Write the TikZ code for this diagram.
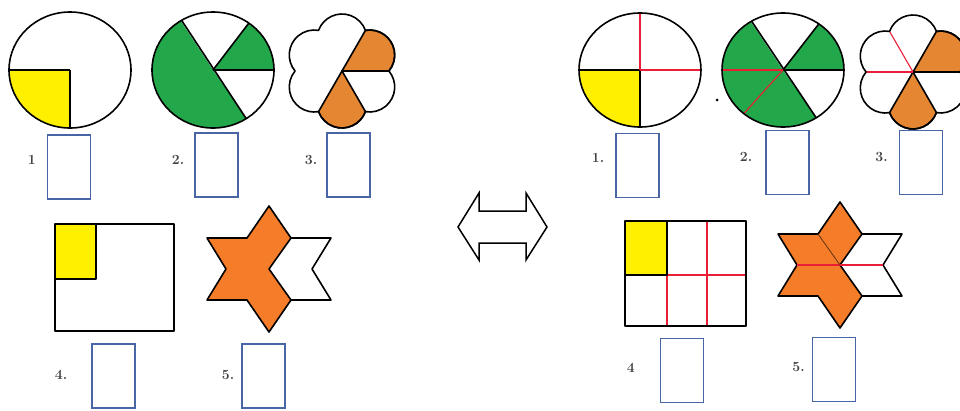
\documentclass[tikz,border=0pt]{standalone}
\usepackage{tikz}
\usetikzlibrary{positioning}

\definecolor{fillyellow}{RGB}{255,240,0}
\definecolor{fillgreen}{RGB}{34,168,74}
\definecolor{flowerorange}{RGB}{228,134,50}
\definecolor{starorange}{RGB}{245,124,40}
\definecolor{boxblue}{RGB}{72,102,165}
\definecolor{cutred}{RGB}{235,30,55}

\begin{document}
\begin{tikzpicture}[
    x=1pt, y=-1pt,
    outline/.style={draw=black, line width=1.6pt, line join=round},
    cutline/.style={draw=cutred, line width=1.1pt},
    answerbox/.style={rectangle, draw=boxblue, line width=1.3pt, minimum width=43pt, minimum height=64pt, inner sep=0pt},
    numlabel/.style={font=\fontsize{14}{14}\selectfont\bfseries, text=black!75, inner sep=0pt}
]
    \useasboundingbox (0,0) rectangle (960,410);

    % Left half: circles
    \fill[fillyellow] (70,70) -- ++(180:61 and 58) arc[start angle=180, end angle=90, x radius=61, y radius=58] -- cycle;
    \draw[outline] (70,70) -- ++(180:61 and 58);
    \draw[outline] (70,70) -- ++(90:61 and 58);
    \draw[outline] (70,70) ellipse[x radius=61, y radius=58];

    \fill[fillgreen] (213,70) -- ++(306:61 and 58) arc[start angle=306, end angle=360, x radius=61, y radius=58] -- cycle;
    \fill[fillgreen] (213,70) -- ++(57:61 and 58) arc[start angle=57, end angle=238, x radius=61, y radius=58] -- cycle;
    \draw[outline] (213,70) -- ++(306:61 and 58);
    \draw[outline] (213,70) -- ++(0:61 and 58);
    \draw[outline] (213,70) ++(57:61 and 58) -- ++(238:122 and 116);
    \draw[outline] (213,70) ellipse[x radius=61, y radius=58];

    % Left half: flower
    \filldraw[outline, fill=flowerorange] (342,71) -- ++(300:46.9) arc[start angle=260.2, end angle=399.8, radius=25] -- cycle;
    \filldraw[outline, fill=flowerorange] (342,71) -- ++(60:46.9) arc[start angle=20.2, end angle=159.8, radius=25] -- cycle;
    \draw[outline] (342,71) ++(0:46.9) \foreach \a in {0,60,...,300} { arc[start angle=\a-39.8, end angle=\a+99.8, radius=25] } -- cycle;

    % Left half: rectangle and star
    \fill[fillyellow] (55,224) rectangle (96,279);
    \draw[outline] (55,279) -- (96,279) -- (96,224);
    \draw[outline] (55,224) rectangle (174,331);

    \begin{scope}[shift={(269,269)}]
        \filldraw[outline, fill=starorange] (0,-63) -- (22,-31) -- (0,0) -- (22,31) -- (0,63) -- (-22,31) -- (-62,31) -- (-43,0) -- (-62,-31) -- (-22,-31) -- cycle;
        \draw[outline] (22,-31) -- (62,-31) -- (43,0) -- (62,31) -- (22,31);
    \end{scope}

    % Left half: answer boxes
    \node[answerbox] (lbox1) at (69,167) {};
    \node[answerbox] (lbox2) at (216.5,165) {};
    \node[answerbox] (lbox3) at (348.5,165) {};
    \node[answerbox] (lbox4) at (113.5,376) {};
    \node[answerbox] (lbox5) at (263.5,376) {};
    \node[numlabel, left=11pt of lbox1, yshift=7pt] (lnum1) {1};
    \node[numlabel, left=10pt of lbox2, yshift=5pt] (lnum2) {2.};
    \node[numlabel, left=9pt of lbox3, yshift=5pt] (lnum3) {3.};
    \node[numlabel, left=24pt of lbox4, yshift=1pt] (lnum4) {4.};
    \node[numlabel, left=7pt of lbox5, yshift=1pt] (lnum5) {5.};

    % Double arrow
    \draw[line width=1.5pt, line join=miter] (458,227) -- (479,193) -- (479,211) -- (526,211) -- (526,193) -- (547,227) -- (526,260) -- (526,243) -- (479,243) -- (479,260) -- cycle;

    % Right half: circles
    \fill[fillyellow] (640,70) -- ++(180:61 and 57) arc[start angle=180, end angle=90, x radius=61, y radius=57] -- cycle;
    \draw[outline] (640,70) -- ++(180:61 and 57);
    \draw[outline] (640,70) -- ++(90:61 and 57);
    \draw[cutline] (640,70) -- ++(270:61 and 57);
    \draw[cutline] (640,70) -- ++(0:61 and 57);
    \draw[outline] (640,70) ellipse[x radius=61, y radius=57];

    \fill (717,100) circle[radius=1.5];

    \fill[fillgreen] (783,70) -- ++(306:61 and 57) arc[start angle=306, end angle=360, x radius=61, y radius=57] -- cycle;
    \fill[fillgreen] (783,70) -- ++(57:61 and 57) arc[start angle=57, end angle=238, x radius=61, y radius=57] -- cycle;
    \draw[outline] (783,70) -- ++(306:61 and 57);
    \draw[outline] (783,70) -- ++(0:61 and 57);
    \draw[outline] (783,70) ++(57:61 and 57) -- ++(238:122 and 114);
    \draw[cutline] (783,70) -- ++(180:61 and 57);
    \draw[cutline] (783,70) -- ++(130:61 and 57);
    \draw[outline] (783,70) ellipse[x radius=61, y radius=57];

    % Right half: flower
    \filldraw[outline, fill=flowerorange] (913,72) -- ++(300:46.9) arc[start angle=260.2, end angle=399.8, radius=25] -- cycle;
    \filldraw[outline, fill=flowerorange] (913,72) -- ++(60:46.9) arc[start angle=20.2, end angle=159.8, radius=25] -- cycle;
    \draw[cutline] (913,72) -- ++(180:46.9);
    \draw[cutline] (913,72) -- ++(240:46.9);
    \draw[outline] (913,72) ++(0:46.9) \foreach \a in {0,60,...,300} { arc[start angle=\a-39.8, end angle=\a+99.8, radius=25] } -- cycle;

    % Right half: rectangle and star
    \fill[fillyellow] (625,221) rectangle (667,275);
    \draw[cutline] (667,275) -- (667,326);
    \draw[cutline] (707,221) -- (707,326);
    \draw[cutline] (667,275) -- (746,275);
    \draw[outline] (625,275) -- (667,275) -- (667,221);
    \draw[outline] (625,221) rectangle (746,326);

    \begin{scope}[shift={(840,265)}]
        \filldraw[outline, fill=starorange] (0,-63) -- (22,-31) -- (0,0) -- (22,31) -- (0,63) -- (-22,31) -- (-62,31) -- (-43,0) -- (-62,-31) -- (-22,-31) -- cycle;
        \draw[outline] (22,-31) -- (62,-31) -- (43,0) -- (62,31) -- (22,31);
        \draw[cutline] (-43,0) -- (43,0);
        \draw[cutline, draw=black!60!starorange, line width=0.8pt] (0,0) -- (-22,-31);
    \end{scope}

    % Right half: answer boxes
    \node[answerbox] (rbox1) at (637.5,165.5) {};
    \node[answerbox] (rbox2) at (787.5,162.5) {};
    \node[answerbox] (rbox3) at (921,162.5) {};
    \node[answerbox] (rbox4) at (682,370.5) {};
    \node[answerbox] (rbox5) at (834,369.5) {};
    \node[numlabel, left=11pt of rbox1, yshift=8pt] (rnum1) {1.};
    \node[numlabel, left=13pt of rbox2, yshift=6pt] (rnum2) {2.};
    \node[numlabel, left=11pt of rbox3, yshift=6pt] (rnum3) {3.};
    \node[numlabel, left=25pt of rbox4, yshift=3pt] (rnum4) {4};
    \node[numlabel, left=7pt of rbox5, yshift=3pt] (rnum5) {5.};
\end{tikzpicture}
\end{document}
